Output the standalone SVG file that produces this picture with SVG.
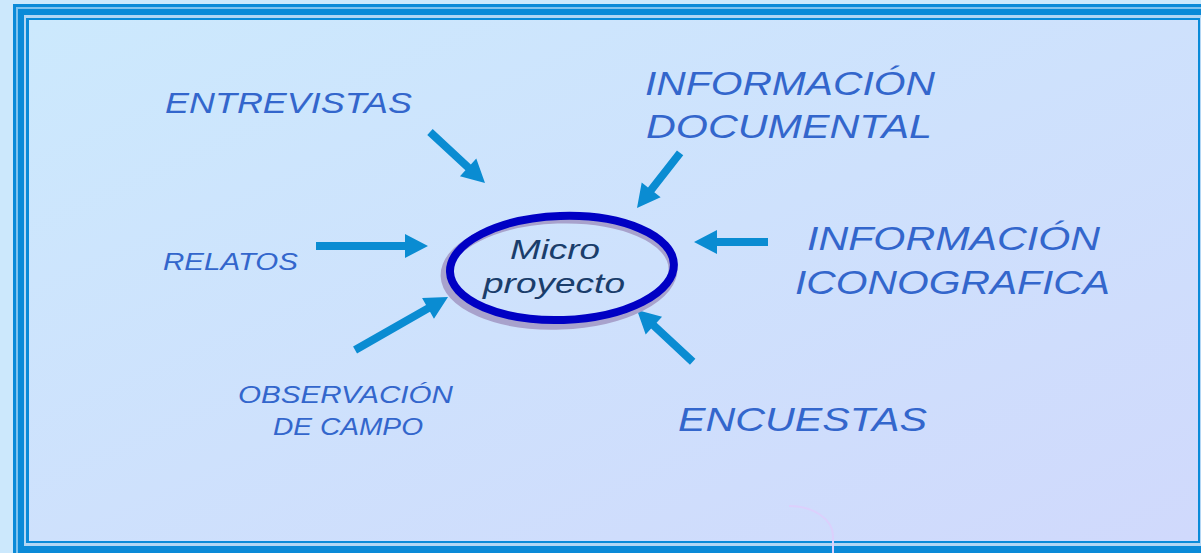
<svg xmlns="http://www.w3.org/2000/svg" width="1201" height="553" viewBox="0 0 1201 553">
<defs>
<linearGradient id="bg" x1="0" y1="0" x2="1" y2="1">
<stop offset="0" stop-color="#cce9fd"/>
<stop offset="1" stop-color="#d0d9fc"/>
</linearGradient>
<style>
.lbl{font-family:"Liberation Sans",Arial,sans-serif;font-style:italic;fill:#3366cc}
.ctr{font-family:"Liberation Sans",Arial,sans-serif;font-style:italic;fill:#1a3d6b}
.arr{fill:#0a8cd2}
.fb{fill:#0a8ad8}
</style>
</defs>
<rect x="0" y="0" width="1201" height="553" fill="#cce8fc"/>
<g id="frame">
<rect class="fb" x="13" y="4" width="1200" height="560"/>
<rect x="16" y="7" width="1200" height="560" fill="#7fc2ee"/>
<rect class="fb" x="18" y="9" width="1200" height="560"/>
<rect x="24" y="15" width="1177" height="531" fill="#b2d6f4"/>
<rect class="fb" x="26" y="18" width="1174" height="525"/>
<rect x="29" y="20" width="1169" height="521" fill="url(#bg)"/>
</g>
<g id="connectors">
<path class="arr" transform="translate(485,183) rotate(42.8)" d="M-75,-4 L-23,-4 L-23,-12 L0,0 L-23,12 L-23,4 L-75,4 Z"/>
<path class="arr" transform="translate(428,246)" d="M-112,-4 L-23,-4 L-23,-12 L0,0 L-23,12 L-23,4 L-112,4 Z"/>
<path class="arr" transform="translate(448,297) rotate(-29.7)" d="M-107,-4 L-23,-4 L-23,-12 L0,0 L-23,12 L-23,4 L-107,4 Z"/>
<path class="arr" transform="translate(637,208) rotate(128)" d="M-70,-4 L-23,-4 L-23,-12 L0,0 L-23,12 L-23,4 L-70,4 Z"/>
<path class="arr" transform="translate(694,242) rotate(180)" d="M-74,-4 L-23,-4 L-23,-12 L0,0 L-23,12 L-23,4 L-74,4 Z"/>
<path class="arr" transform="translate(637,310) rotate(-137.1)" d="M-76,-4 L-23,-4 L-23,-12 L0,0 L-23,12 L-23,4 L-76,4 Z"/>
</g>
<g id="center">
<ellipse cx="559" cy="272" rx="114" ry="53" fill="none" stroke="#a8a2cc" stroke-width="9" transform="rotate(-2 561 270)"/>
<ellipse cx="562" cy="268" rx="112" ry="52" fill="none" stroke="#0000c4" stroke-width="8" transform="rotate(-2 561 270)"/>
<text class="ctr" x="510" y="259" font-size="28" textLength="90" lengthAdjust="spacingAndGlyphs">Micro</text>
<text class="ctr" x="483" y="293" font-size="28" textLength="142" lengthAdjust="spacingAndGlyphs">proyecto</text>
</g>
<g id="entrevistas"><text class="lbl" x="165" y="113" font-size="29" textLength="247" lengthAdjust="spacingAndGlyphs">ENTREVISTAS</text></g>
<g id="documental">
<text class="lbl" x="645" y="95" font-size="34" textLength="290" lengthAdjust="spacingAndGlyphs">INFORMACIÓN</text>
<text class="lbl" x="646" y="138" font-size="34" textLength="286" lengthAdjust="spacingAndGlyphs">DOCUMENTAL</text>
</g>
<g id="relatos"><text class="lbl" x="163" y="270" font-size="24" textLength="135" lengthAdjust="spacingAndGlyphs">RELATOS</text></g>
<g id="iconografica">
<text class="lbl" x="807" y="250" font-size="34" textLength="293" lengthAdjust="spacingAndGlyphs">INFORMACIÓN</text>
<text class="lbl" x="795" y="294" font-size="34" textLength="315" lengthAdjust="spacingAndGlyphs">ICONOGRAFICA</text>
</g>
<g id="observacion">
<text class="lbl" x="238" y="403" font-size="24" textLength="215" lengthAdjust="spacingAndGlyphs">OBSERVACIÓN</text>
<text class="lbl" x="273" y="435" font-size="24" textLength="150" lengthAdjust="spacingAndGlyphs">DE CAMPO</text>
</g>
<g id="encuestas"><text class="lbl" x="678" y="431" font-size="34" textLength="249" lengthAdjust="spacingAndGlyphs">ENCUESTAS</text></g>
<path d="M789,506 A44,30 0 0 1 833,536 V553" fill="none" stroke="#dcd0fc" stroke-width="2"/>
</svg>
